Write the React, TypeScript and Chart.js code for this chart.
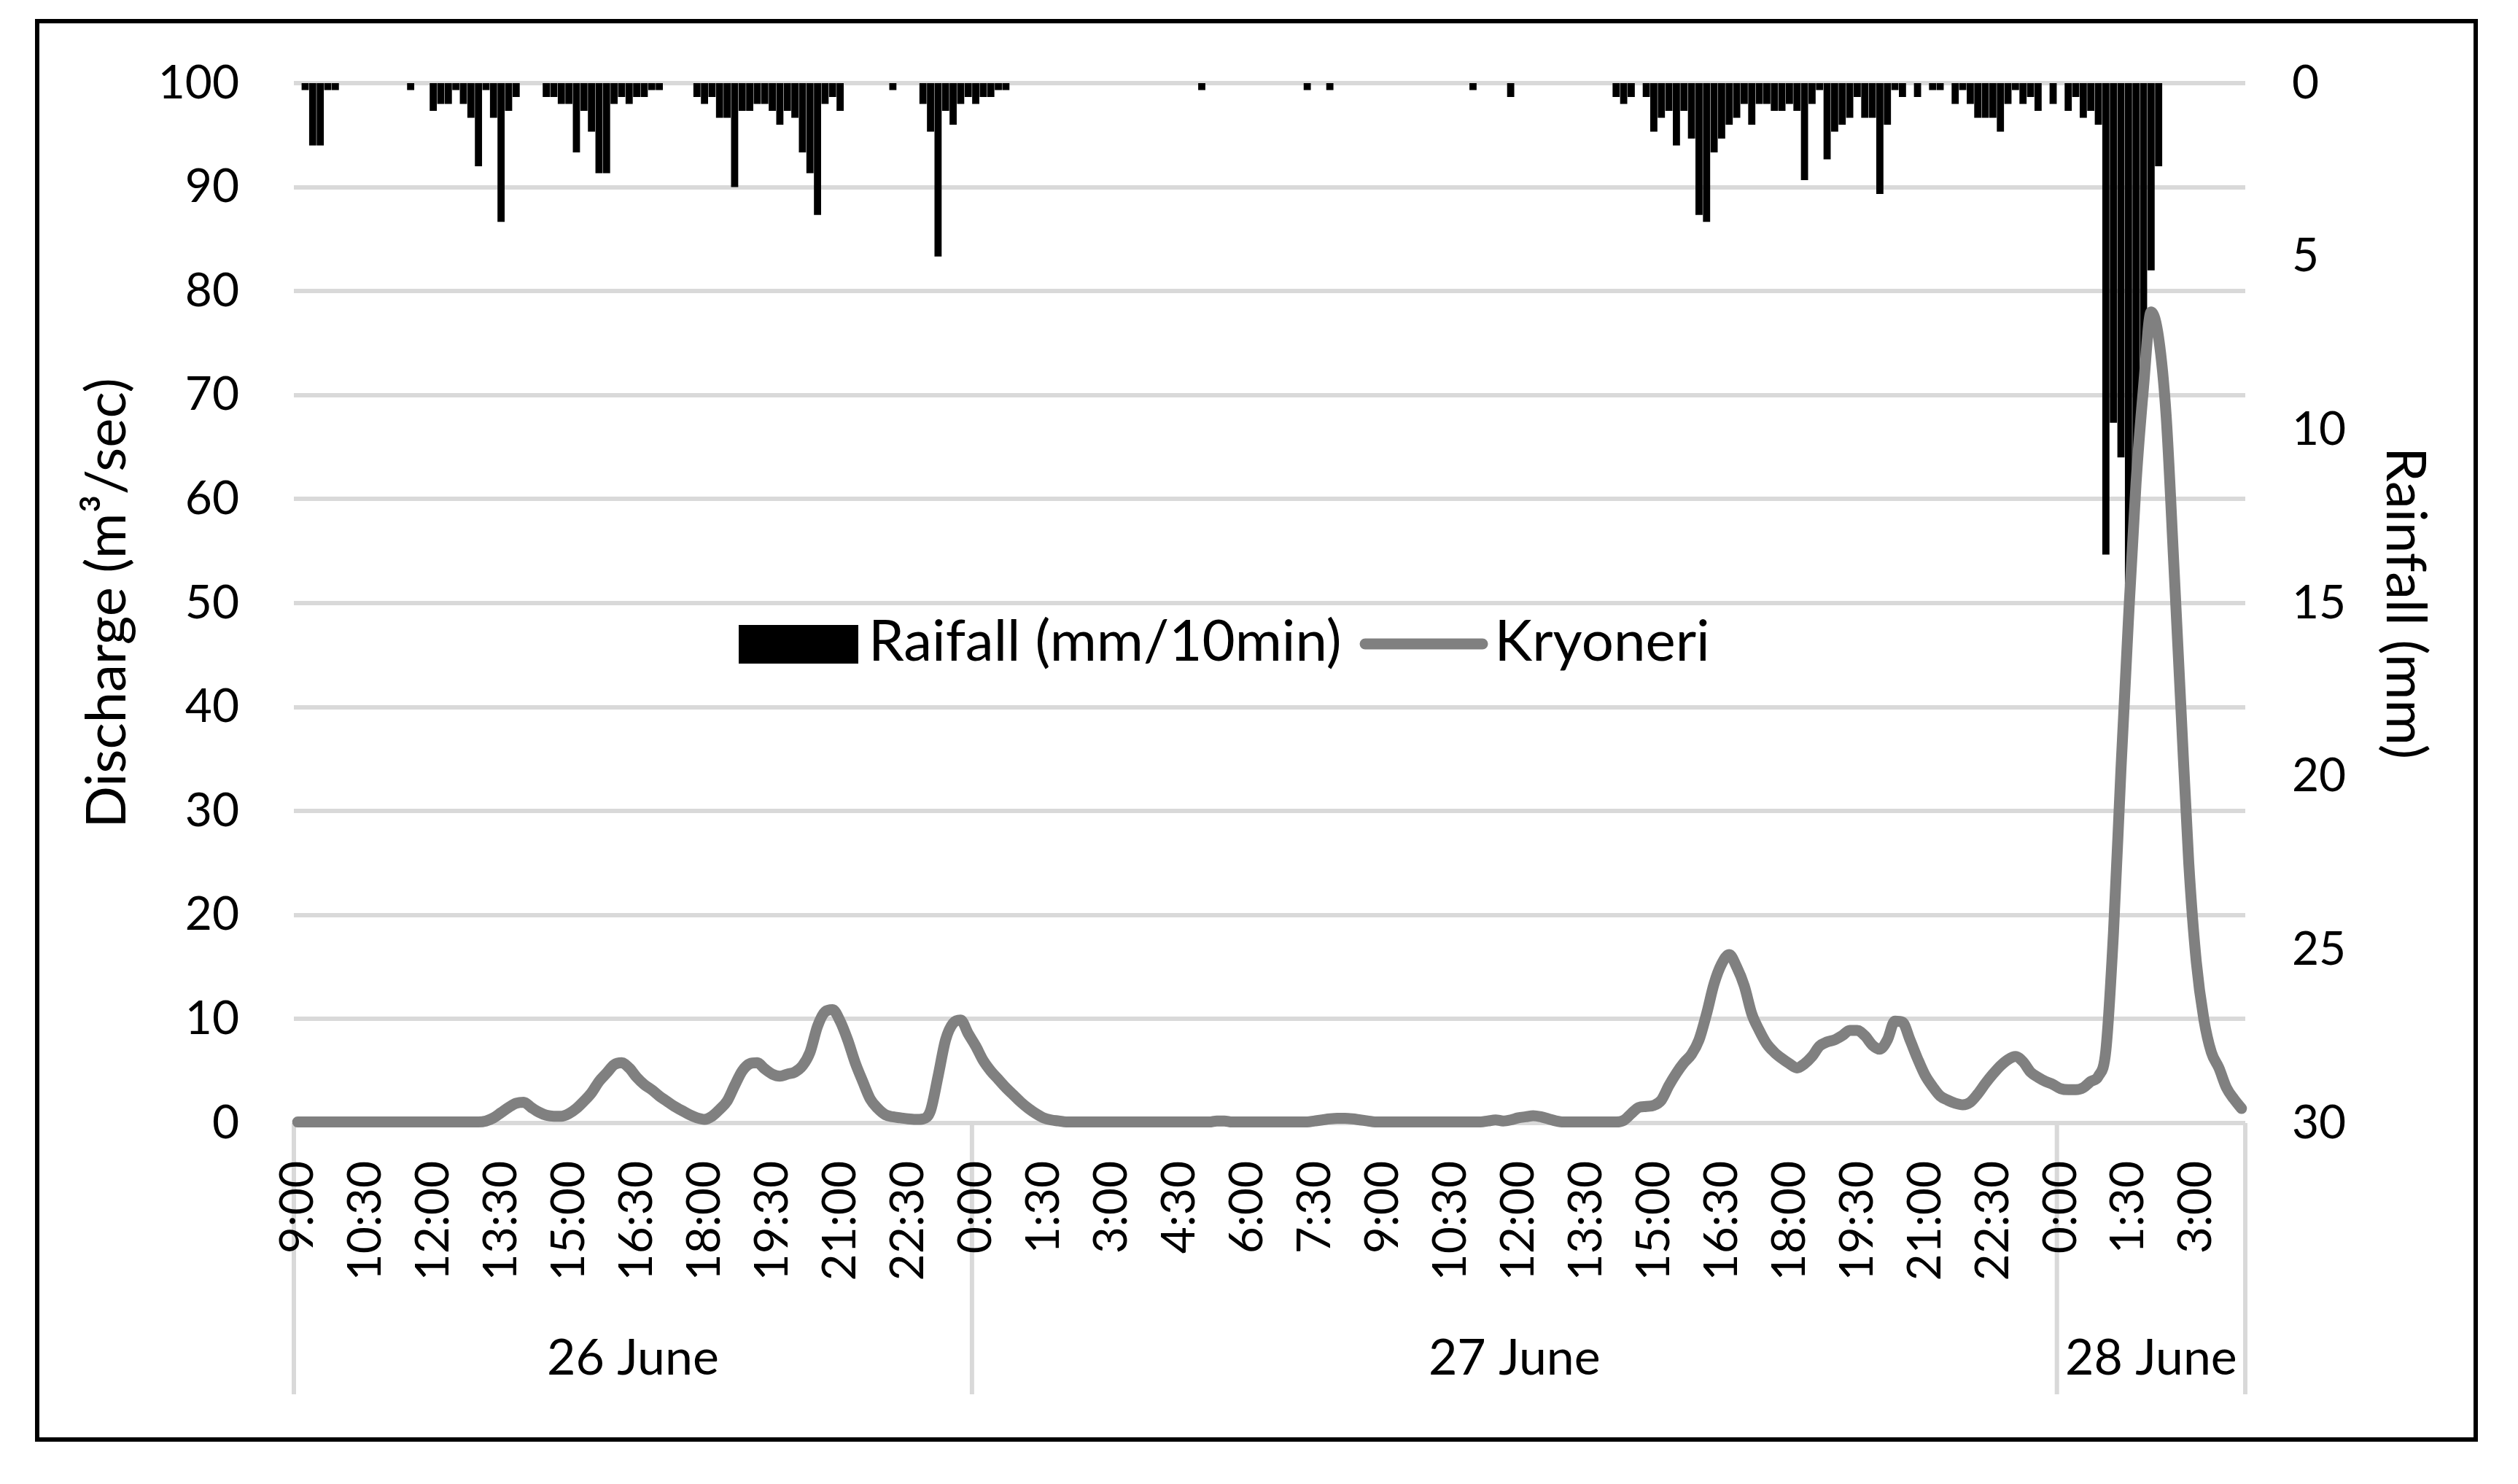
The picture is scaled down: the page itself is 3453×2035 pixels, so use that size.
import React, { useEffect, useRef } from 'react';
import { Chart, registerables } from 'chart.js';

Chart.register(...registerables);

// ---- Data (10-minute records, 26 June 9:00 → 28 June 4:00) ----
const START_MINUTES = 9 * 60;
const STEP_MINUTES = 10;
const TICK_EVERY = 9; // a time label every 1.5 h

const DAY_LABELS = ['26 June', '27 June', '28 June'];

// Kryoneri discharge (m3/sec)
const DISCHARGE_26 = [
  0.1, 0.1, 0.1, 0.1, 0.1, 0.1, 0.1, 0.1, 0.1, 0.1,
  0.1, 0.1, 0.1, 0.1, 0.1, 0.1, 0.1, 0.1, 0.1, 0.1,
  0.1, 0.1, 0.1, 0.1, 0.1, 0.2, 0.5, 1.0, 1.5, 1.9,
  2.0, 1.5, 1.05, 0.75, 0.65, 0.65, 0.9, 1.4, 2.1, 2.9,
  4.0, 4.8, 5.6, 5.8, 5.3, 4.4, 3.7, 3.2, 2.6, 2.1,
  1.6, 1.2, 0.8, 0.5, 0.35, 0.65, 1.3, 2.1, 3.6, 5.0,
  5.7, 5.8, 5.2, 4.7, 4.5, 4.7, 4.9, 5.5, 6.8, 9.3,
  10.7, 10.9, 9.8, 8.0, 5.8, 4.0, 2.3, 1.4, 0.8, 0.6,
  0.5, 0.4, 0.35, 0.4, 1.2, 4.5, 8.0, 9.6, 9.9, 8.6,
];
const DISCHARGE_27 = [
  7.4, 6.0, 5.0, 4.2, 3.4, 2.7, 2.0, 1.4, 0.9, 0.5,
  0.3, 0.2, 0.1, 0.1, 0.1, 0.1, 0.1, 0.1, 0.1, 0.1,
  0.1, 0.1, 0.1, 0.1, 0.1, 0.1, 0.1, 0.1, 0.1, 0.1,
  0.1, 0.1, 0.2, 0.2, 0.1, 0.1, 0.1, 0.1, 0.1, 0.1,
  0.1, 0.1, 0.1, 0.1, 0.1, 0.2, 0.3, 0.4, 0.45, 0.45,
  0.4, 0.3, 0.2, 0.1, 0.1, 0.1, 0.1, 0.1, 0.1, 0.1,
  0.1, 0.1, 0.1, 0.1, 0.1, 0.1, 0.1, 0.1, 0.2, 0.3,
  0.2, 0.3, 0.5, 0.6, 0.7, 0.6, 0.4, 0.2, 0.1, 0.1,
  0.1, 0.1, 0.1, 0.1, 0.1, 0.1, 0.25, 0.9, 1.5, 1.6,
  1.7, 2.2, 3.6, 4.8, 5.8, 6.6, 8.0, 10.5, 13.4, 15.3,
  16.2, 15.0, 13.2, 10.5, 8.9, 7.6, 6.8, 6.2, 5.7, 5.3,
  5.7, 6.4, 7.4, 7.8, 8.0, 8.4, 8.9, 8.9, 8.4, 7.5,
  7.1, 8.0, 9.8, 9.7, 8.0, 6.2, 4.6, 3.5, 2.6, 2.2,
  1.9, 1.75, 2.0, 2.8, 3.8, 4.7, 5.5, 6.1, 6.4, 5.9,
  4.9, 4.4, 4.0, 3.7,
];
const DISCHARGE_28 = [
  3.3, 3.2, 3.2, 3.4, 4.0, 4.5, 7.0, 18.2, 34, 48.5,
  61.5, 70.8, 78, 75.5, 68, 54, 39.3, 25, 15.5, 10,
  6.8, 5.3, 3.4, 2.3, 1.4,
];

// Rainfall (mm per 10 min)
const RAIN_26 = [
  0, 0.2, 1.8, 1.8, 0.2, 0.2, 0, 0, 0, 0,
  0, 0, 0, 0, 0, 0.2, 0, 0, 0.8, 0.6,
  0.6, 0.2, 0.6, 1.0, 2.4, 0.2, 1.0, 4.0, 0.8, 0.4,
  0, 0, 0, 0.4, 0.4, 0.6, 0.6, 2.0, 0.8, 1.4,
  2.6, 2.6, 0.6, 0.4, 0.6, 0.4, 0.4, 0.2, 0.2, 0,
  0, 0, 0, 0.4, 0.6, 0.4, 1.0, 1.0, 3.0, 0.8,
  0.8, 0.6, 0.6, 0.8, 1.2, 0.8, 1.0, 2.0, 2.6, 3.8,
  0.6, 0.4, 0.8, 0, 0, 0, 0, 0, 0, 0.2,
  0, 0, 0, 0.6, 1.4, 5.0, 0.8, 1.2, 0.6, 0.4,
];
const RAIN_27 = [
  0.6, 0.4, 0.4, 0.2, 0.2, 0, 0, 0, 0, 0,
  0, 0, 0, 0, 0, 0, 0, 0, 0, 0,
  0, 0, 0, 0, 0, 0, 0, 0, 0, 0,
  0.2, 0, 0, 0, 0, 0, 0, 0, 0, 0,
  0, 0, 0, 0, 0.2, 0, 0, 0.2, 0, 0,
  0, 0, 0, 0, 0, 0, 0, 0, 0, 0,
  0, 0, 0, 0, 0, 0, 0.2, 0, 0, 0,
  0, 0.4, 0, 0, 0, 0, 0, 0, 0, 0,
  0, 0, 0, 0, 0, 0.4, 0.6, 0.4, 0, 0.4,
  1.4, 1.0, 0.8, 1.8, 0.8, 1.6, 3.8, 4.0, 2.0, 1.6,
  1.2, 1.0, 0.6, 1.2, 0.6, 0.6, 0.8, 0.8, 0.6, 0.8,
  2.8, 0.6, 0.2, 2.2, 1.4, 1.2, 1.0, 0.4, 1.0, 1.0,
  3.2, 1.2, 0.2, 0.4, 0, 0.4, 0, 0.2, 0.2, 0,
  0.6, 0.2, 0.6, 1.0, 1.0, 1.0, 1.4, 0.6, 0.2, 0.6,
  0.4, 0.8, 0, 0.6,
];
const RAIN_28 = [
  0, 0.8, 0.4, 1.0, 0.8, 1.2, 13.6, 9.8, 10.8, 14.5,
  11.5, 8.5, 5.4, 2.4, 0, 0, 0, 0, 0, 0,
  0, 0, 0, 0, 0,
];

const DAY_COUNTS = [DISCHARGE_26.length, DISCHARGE_27.length, DISCHARGE_28.length];
const DISCHARGE = [...DISCHARGE_26, ...DISCHARGE_27, ...DISCHARGE_28];
const RAIN = [...RAIN_26, ...RAIN_27, ...RAIN_28];
const CATEGORIES = DISCHARGE.map((_, i) => {
  const t = START_MINUTES + i * STEP_MINUTES;
  const h = Math.floor(t / 60) % 24;
  const m = t % 60;
  return `${h}:${String(m).padStart(2, '0')}`;
});

const LEGEND_RAIN = 'Raifall (mm/10min)';
const LEGEND_FLOW = 'Kryoneri';

const FONT = "Lato, 'Liberation Sans', sans-serif";
const GRID = '#d9d9d9';
const LINE_GRAY = '#808080';

function dayBounds(chart: any): number[] {
  const { chartArea, scales } = chart;
  const x = scales.x;
  const bounds: number[] = [chartArea.left];
  let acc = 0;
  DAY_COUNTS.forEach((n, k) => {
    acc += n;
    if (k === DAY_COUNTS.length - 1) bounds.push(chartArea.right);
    else bounds.push((x.getPixelForValue(acc - 1) + x.getPixelForValue(acc)) / 2);
  });
  return bounds;
}

const decorPlugin = {
  id: 'decor',
  beforeDraw(chart: any) {
    const { ctx, chartArea } = chart;
    const bounds = dayBounds(chart);
    ctx.save();
    ctx.strokeStyle = GRID;
    ctx.lineWidth = 6;
    bounds.forEach((b) => {
      ctx.beginPath();
      ctx.moveTo(b, chartArea.bottom);
      ctx.lineTo(b, chartArea.bottom + 372);
      ctx.stroke();
    });
    ctx.restore();
  },
  afterDraw(chart: any) {
    const { ctx, chartArea } = chart;
    const bounds = dayBounds(chart);
    ctx.save();
    ctx.fillStyle = '#000';
    ctx.font = `68px ${FONT}`;
    ctx.textAlign = 'center';
    ctx.textBaseline = 'alphabetic';
    DAY_LABELS.forEach((t, k) => {
      ctx.fillText(t, (bounds[k] + bounds[k + 1]) / 2, chartArea.bottom + 345);
    });

    // legend
    const lx = chartArea.left + 610;
    const ly = chartArea.top + 743;
    ctx.fillStyle = '#000';
    ctx.fillRect(lx, ly, 164, 53);
    ctx.font = `78px ${FONT}`;
    ctx.textAlign = 'left';
    const baseY = chartArea.top + 792;
    const tx1 = lx + 178;
    ctx.fillText(LEGEND_RAIN, tx1, baseY);
    const w1 = ctx.measureText(LEGEND_RAIN).width;
    const sx = tx1 + w1 + 25;
    ctx.strokeStyle = LINE_GRAY;
    ctx.lineWidth = 15;
    ctx.lineCap = 'round';
    ctx.beginPath();
    ctx.moveTo(sx + 7.5, ly + 26);
    ctx.lineTo(sx + 168.5, ly + 26);
    ctx.stroke();
    ctx.fillText(LEGEND_FLOW, sx + 185, baseY);
    ctx.restore();
  },
};

export default function App() {
  const ref = useRef<HTMLCanvasElement | null>(null);

  useEffect(() => {
    if (!ref.current) return;
    Chart.defaults.font.family = FONT;
    Chart.defaults.color = '#000';
    const chart = new Chart(ref.current, {
      type: 'bar',
      data: {
        labels: CATEGORIES,
        datasets: [
          {
            type: 'line',
            label: LEGEND_FLOW,
            data: DISCHARGE,
            yAxisID: 'y',
            borderColor: LINE_GRAY,
            backgroundColor: LINE_GRAY,
            borderWidth: 15,
            pointRadius: 0,
            borderCapStyle: 'round',
            borderJoinStyle: 'round',
            cubicInterpolationMode: 'monotone',
            clip: false,
            order: 0,
          } as any,
          {
            type: 'bar',
            label: LEGEND_RAIN,
            data: RAIN,
            yAxisID: 'y2',
            backgroundColor: '#000',
            borderWidth: 0,
            barPercentage: 0.95,
            categoryPercentage: 1.0,
            order: 1,
          } as any,
        ],
      },
      options: {
        animation: false,
        responsive: false,
        devicePixelRatio: 1,
        layout: { padding: { top: 114, left: 0, right: 0, bottom: 0 } },
        plugins: { legend: { display: false }, tooltip: { enabled: false } },
        scales: {
          x: {
            type: 'category',
            offset: true,
            grid: { display: false, drawTicks: false },
            border: { display: false },
            ticks: {
              autoSkip: false,
              minRotation: 90,
              maxRotation: 90,
              padding: 52,
              color: '#000',
              font: { size: 64, family: FONT },
              callback: (_v: any, index: number) => (index % TICK_EVERY === 0 ? CATEGORIES[index] : ''),
            },
            afterFit: (scale: any) => {
              scale.height = 495;
            },
          },
          y: {
            type: 'linear',
            position: 'left',
            min: 0,
            max: 100,
            ticks: { stepSize: 10, padding: 75, color: '#000', font: { size: 64, family: FONT } },
            grid: { color: GRID, lineWidth: 6, drawTicks: false },
            border: { display: false },
            title: {
              display: true,
              text: 'Discharge (m³/sec)',
              color: '#000',
              font: { size: 76, family: FONT },
              padding: { top: 102, bottom: 0 },
            },
            afterFit: (scale: any) => {
              scale.width = 403;
            },
          },
          y2: {
            type: 'linear',
            position: 'right',
            min: 0,
            max: 30,
            reverse: true,
            ticks: { stepSize: 5, padding: 64, color: '#000', font: { size: 64, family: FONT } },
            grid: { display: false, drawTicks: false },
            border: { display: false },
            title: {
              display: true,
              text: 'Rainfall (mm)',
              color: '#000',
              font: { size: 76, family: FONT },
              padding: { top: 110, bottom: 0 },
            },
            afterFit: (scale: any) => {
              scale.width = 374;
            },
          },
        },
      } as any,
      plugins: [decorPlugin],
    });
    const fonts: any = (document as any).fonts;
    if (fonts && fonts.load) {
      fonts.load(`64px ${FONT}`).then(() => {
        try { chart.update(); } catch (e) { /* destroyed */ }
      });
    }
    return () => {
      chart.destroy();
    };
  }, []);

  return (
    <div style={{ position: 'fixed', left: 0, top: 0, width: 3453, height: 2035, background: '#fff' }}>
      <canvas ref={ref} width={3453} height={2035} style={{ width: 3453, height: 2035, display: 'block' }} />
      <div
        style={{
          position: 'absolute',
          left: 48,
          top: 26,
          width: 3350,
          height: 1951,
          border: '6px solid #000',
          boxSizing: 'border-box',
          pointerEvents: 'none',
        }}
      />
    </div>
  );
}
